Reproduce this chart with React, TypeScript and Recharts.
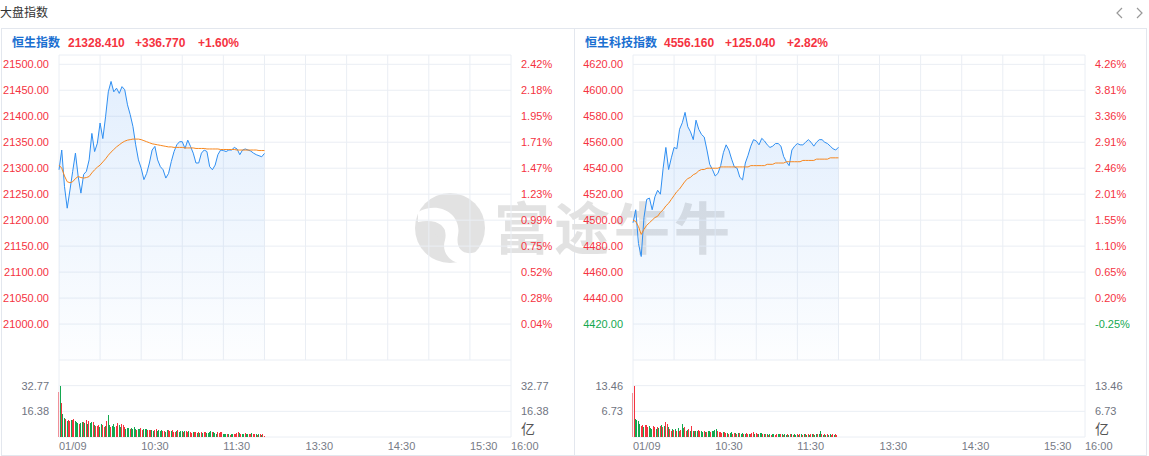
import React from 'react';
import { Area, Bar, CartesianGrid, Cell, ComposedChart, Line, ReferenceLine, XAxis, YAxis } from 'recharts';

const FONT = '"Liberation Sans", Arial, "Noto Sans CJK SC", sans-serif';
const RED = '#f5333f';
const GREEN = '#14a850';
const BLUE = '#2f8ff2';
const ORANGE = '#f7871e';
const GRID = '#eaeef4';
const BORDER = '#e3e7ee';

// x = trading minutes since 09:30 (lunch break removed), 330 = 16:00
const timeTicks = [0, 30, 60, 90, 120, 150, 180, 210, 240, 270, 300, 330];
const timeLabelTicks = [0, 60, 120, 180, 240, 300, 330];
const timeLabels = ['01/09', '10:30', '11:30', '13:30', '14:30', '15:30', '16:00'];

// 恒生指数, one point every 2 minutes
const hsiPrice = [
  21297, 21335, 21265, 21223, 21258, 21294, 21329, 21284, 21252, 21288,
  21294, 21316, 21367, 21332, 21348, 21387, 21357, 21399, 21447, 21467,
  21447, 21454, 21444, 21457, 21451, 21422, 21403, 21380, 21345, 21316,
  21300, 21278, 21290, 21310, 21335, 21342, 21316, 21303, 21297, 21281,
  21290, 21313, 21332, 21345, 21351, 21351, 21338, 21354, 21342, 21329,
  21310, 21310, 21329, 21335, 21332, 21303, 21297, 21306, 21326, 21335,
  21334, 21332, 21335, 21335, 21340, 21337, 21326, 21335, 21337, 21335,
  21333, 21329, 21326, 21324, 21322, 21328.41,
];
const hsiAvg = [
  21306, 21300, 21285, 21274, 21272, 21274, 21280, 21284, 21282, 21281,
  21282, 21284, 21291, 21297, 21302, 21306, 21312, 21318, 21325, 21331,
  21336, 21341, 21345, 21349, 21352, 21354, 21355, 21356, 21356, 21356,
  21355, 21353, 21351, 21349, 21347, 21346, 21345, 21344, 21343, 21342,
  21341, 21341, 21340, 21340, 21340, 21340, 21339, 21339, 21339, 21339,
  21338, 21338, 21338, 21338, 21337, 21337, 21337, 21337, 21337, 21336,
  21336, 21336, 21336, 21336, 21336, 21335, 21335, 21335, 21335, 21335,
  21335, 21335, 21335, 21334, 21334, 21334,
];
const hsiPriceLabels = [21000, 21050, 21100, 21150, 21200, 21250, 21300, 21350, 21400, 21450, 21500];
const hsiPriceGrid = [20930.8, ...hsiPriceLabels, 21517.9];
// volume per minute, 亿
const hsiVol = [
  28.7, 32.77, 21.7, 14.5, 12.3, 11.7, 10.2, 10.6, 10.2, 10.6,
  11.1, 11.7, 10.0, 9.6, 9.1, 8.5, 8.9, 9.6, 9.6, 8.9,
  10.6, 8.5, 10.0, 8.9, 9.6, 9.4, 7.4, 7.0, 6.8, 7.4,
  6.4, 8.5, 7.4, 6.4, 6.8, 10.0, 13.8, 7.4, 6.4, 6.8,
  8.5, 6.4, 6.8, 9.1, 7.4, 6.4, 8.5, 7.4, 6.4, 5.3,
  6.0, 5.7, 5.3, 6.0, 5.3, 6.4, 5.3, 4.7, 5.3, 5.3,
  6.0, 4.7, 5.3, 5.1, 5.3, 4.3, 4.7, 4.3, 4.7, 3.8,
  4.3, 5.3, 3.8, 4.3, 3.6, 4.3, 3.6, 3.8, 3.2, 4.3,
  4.7, 3.8, 3.6, 4.3, 3.4, 3.2, 3.6, 4.3, 3.2, 3.8,
  3.6, 3.2, 3.8, 3.8, 3.2, 3.6, 3.2, 2.8, 3.4, 3.0,
  3.2, 2.6, 3.0, 2.6, 3.2, 2.6, 3.0, 3.4, 2.8, 2.6,
  3.4, 3.8, 3.0, 3.2, 2.6, 2.1, 3.0, 2.6, 3.2, 3.4,
  2.1, 1.7, 2.1, 1.7, 1.7, 1.5, 2.1, 1.7, 2.1, 1.7,
  2.6, 3.0, 2.6, 2.1, 1.7, 2.1, 2.6, 2.1, 1.9, 1.7,
  1.7, 2.6, 2.1, 1.7, 1.9, 1.5, 1.7, 1.7, 1.5, 1.9,
  0.9,
];
const hsiVolDir =
  'rgrggrgrrg' + 'rrgggrggrg' + 'rgrggrgrrr' + 'ggrrgrggrg' + 'ggrrggrrrg' +
  'ggrggggrgg' + 'rrgggrrrgg' + 'rrggggrrgg' + 'rrgrrrgrgg' + 'grgrrgrrgr' +
  'rgrgrgrrgg' + 'ggrgggrrrr' + 'gggrgrggrr' + 'rrgrggrggr' + 'rgrrgrgrgr' + 'r';
const hsiVolLabels = [16.38, 32.77];

// 恒生科技指数
const hstPrice = [
  4498, 4508, 4482, 4472, 4502, 4516, 4517, 4508, 4518, 4523,
  4520, 4540, 4556, 4539, 4548, 4556, 4555, 4570, 4575, 4583,
  4572, 4568, 4562, 4577, 4570, 4566, 4564, 4554, 4543, 4539,
  4534, 4536, 4542, 4552, 4558, 4554, 4547, 4541, 4540, 4533,
  4531, 4544, 4550, 4557, 4562, 4561, 4558, 4563, 4561, 4558,
  4556, 4557, 4559, 4559, 4557, 4549, 4545, 4542, 4554, 4557,
  4559, 4558, 4558, 4560, 4562, 4560, 4557, 4560, 4562, 4562,
  4560, 4559, 4557, 4555, 4554, 4556.16,
];
const hstAvg = [
  4500, 4499, 4495, 4489, 4493, 4496, 4498, 4500, 4502, 4503,
  4506, 4508, 4511, 4513, 4516, 4519, 4522, 4524, 4527, 4530,
  4532, 4533, 4535, 4536, 4538, 4539, 4539, 4540, 4540, 4540,
  4540, 4540, 4541, 4541, 4541, 4541, 4541, 4541, 4541, 4541,
  4541, 4541, 4541, 4542, 4542, 4542, 4542, 4542, 4542, 4543,
  4543, 4543, 4544, 4544, 4544, 4544, 4545, 4545, 4545, 4545,
  4545, 4545, 4546, 4546, 4546, 4546, 4546, 4547, 4547, 4547,
  4547, 4547, 4548, 4548, 4548, 4548,
];
const hstPriceLabels = [4420, 4440, 4460, 4480, 4500, 4520, 4540, 4560, 4580, 4600, 4620];
const hstPriceGrid = [4392.3, ...hstPriceLabels, 4627.2];
const hstVol = [
  11.5, 13.46, 4.8, 4.5, 4.2, 3.5, 2.8, 3.1, 2.6, 3.2,
  3.1, 2.6, 2.8, 2.4, 2.2, 2.9, 2.6, 2.2, 2.6, 2.4,
  2.8, 3.1, 2.6, 2.8, 3.9, 3.3, 2.6, 2.2, 1.7, 2.2,
  1.9, 2.2, 1.7, 2.4, 1.7, 1.9, 3.3, 2.4, 2.6, 1.7,
  1.9, 2.2, 1.7, 2.8, 1.6, 1.7, 1.5, 1.7, 1.9, 1.5,
  1.7, 1.3, 1.6, 1.4, 1.2, 1.6, 1.5, 1.3, 1.7, 1.7,
  1.9, 2.0, 1.7, 1.4, 1.3, 1.1, 1.3, 1.3, 1.1, 1.0,
  0.9, 1.0, 1.2, 0.9, 1.0, 1.0, 0.9, 1.0, 1.0, 0.9,
  1.0, 0.8, 0.9, 1.0, 0.9, 0.8, 0.9, 1.0, 1.2, 0.8,
  1.0, 0.9, 0.8, 1.0, 1.0, 0.9, 0.7, 0.8, 0.7, 0.6,
  0.8, 0.6, 0.7, 0.9, 0.6, 0.7, 0.9, 0.7, 0.8, 0.7,
  0.6, 0.7, 0.6, 0.7, 0.6, 0.7, 0.8, 0.6, 0.7, 0.6,
  0.7, 0.6, 0.7, 0.8, 0.6, 0.7, 0.8, 0.6, 0.7, 0.6,
  0.7, 0.8, 0.7, 0.6, 0.8, 0.7, 0.9, 1.7, 0.7, 0.6,
  0.7, 0.6, 0.7, 0.6, 0.8, 0.6, 0.7, 0.6, 0.7, 0.6,
];
const hstVolDir =
  'rrggggrrgr' + 'rrgggrrgrg' + 'rgrgrrgrrg' + 'rgrgrrggrr' + 'grgrgrggrr' +
  'ggrgrggrgg' + 'ggrrrrgrrg' + 'rggrrgrgrg' + 'grgrrgrrrg' + 'rrgggrgrgr' +
  'grggrrggrg' + 'rggrgrgrgg' + 'rgrgrgrgrg' + 'rgrggrggrg' + 'rgrggrrgrr';
const hstVolLabels = [6.73, 13.46];

const PriceTick = (props: any) => {
  const { x, y, payload, labels, prevClose, side } = props;
  const v = payload.value;
  if (!labels.includes(v)) return <g />;
  const text = side === 'l' ? v.toFixed(2) : (((v - prevClose) / prevClose) * 100).toFixed(2) + '%';
  return (
    <text x={x} y={y} dy="0.355em" textAnchor={side === 'l' ? 'end' : 'start'}
      fill={v >= prevClose ? RED : GREEN} fontSize={11} fontFamily={FONT}>
      {text}
    </text>
  );
};

const VolTick = (props: any) => {
  const { x, y, payload, labels, side } = props;
  const v = payload.value;
  if (!labels.includes(v)) return <g />;
  return (
    <text x={x} y={y} dy="0.355em" textAnchor={side === 'l' ? 'end' : 'start'}
      fill="#70747f" fontSize={11} fontFamily={FONT}>
      {v.toFixed(2)}
    </text>
  );
};

const TimeTick = (props: any) => {
  const { x, y, payload } = props;
  const label = timeLabels[timeLabelTicks.indexOf(payload.value)];
  return (
    <text x={x} y={y} dy="0.71em" textAnchor="start" fill="#777b86" fontSize={11} fontFamily={FONT}>
      {label}
    </text>
  );
};

interface PanelProps {
  id: string;
  left: number;
  prevClose: number;
  price: number[];
  avg: number[];
  priceLabels: number[];
  priceGrid: number[];
  vol: number[];
  volDir: string;
  volLabels: number[];
}

const Panel: React.FC<PanelProps> = ({ id, left, prevClose, price, avg, priceLabels, priceGrid, vol, volDir, volLabels }) => {
  const rows = price.map((p, i) => ({ t: i * 2, p, a: avg[i] }));
  const vrows = vol.map((v, i) => ({ t: i, v, c: volDir[i] }));
  const volMax = volLabels[1] * 1.5;
  const volTicks = [0, ...volLabels, volMax];
  const pDomain = [priceGrid[0], priceGrid[priceGrid.length - 1]];

  return (
    <>
      <div style={{ position: 'absolute', left, top: 0 }}>
        <ComposedChart width={574} height={360} data={rows} margin={{ top: 55, right: 0, bottom: 0, left: 0 }}>
          <defs>
            <linearGradient id={`g-${id}`} x1="0" y1="0" x2="0" y2="1">
              <stop offset="0%" stopColor="#3d8ff2" stopOpacity={0.24} />
              <stop offset="100%" stopColor="#3d8ff2" stopOpacity={0.02} />
            </linearGradient>
          </defs>
          <CartesianGrid stroke={GRID} />
          <XAxis dataKey="t" type="number" domain={[0, 330]} ticks={timeTicks} hide />
          <YAxis type="number" domain={pDomain} ticks={priceGrid} interval={0} width={59}
            axisLine={false} tickLine={false} tickSize={0} tickMargin={10}
            tick={(p: any) => <PriceTick {...p} labels={priceLabels} prevClose={prevClose} side="l" />} />
          <YAxis yAxisId="r" orientation="right" type="number" domain={pDomain} ticks={priceGrid} interval={0} width={63}
            axisLine={false} tickLine={false} tickSize={0} tickMargin={10}
            tick={(p: any) => <PriceTick {...p} labels={priceLabels} prevClose={prevClose} side="r" />} />
          <Area type="linear" dataKey="p" stroke={BLUE} strokeWidth={1} fill={`url(#g-${id})`}
            dot={false} activeDot={false} isAnimationActive={false} />
          <Line type="linear" dataKey="a" stroke={ORANGE} strokeWidth={1} dot={false} activeDot={false} isAnimationActive={false} />
          {/* invisible copy so the right-hand percent axis gets drawn */}
          <Line yAxisId="r" type="linear" dataKey="p" stroke="none" dot={false} activeDot={false} isAnimationActive={false} />
        </ComposedChart>
      </div>
      <div className="vol" style={{ position: 'absolute', left, top: 360 }}>
        <ComposedChart width={574} height={96} data={vrows} margin={{ top: 0, right: 0, bottom: 0, left: 0 }}>
          <CartesianGrid stroke={GRID} vertical={false} />
          <XAxis dataKey="t" type="number" domain={[0, 330]} ticks={timeLabelTicks} interval={0} height={19}
            axisLine={false} tickLine={false} tickSize={0} tickMargin={5} tick={TimeTick} />
          <YAxis type="number" domain={[0, volMax]} ticks={volTicks} interval={0} width={59}
            axisLine={false} tickLine={false} tickSize={0} tickMargin={10}
            tick={(p: any) => <VolTick {...p} labels={volLabels} side="l" />} />
          <YAxis yAxisId="r" orientation="right" type="number" domain={[0, volMax]} ticks={volTicks} interval={0} width={63}
            axisLine={false} tickLine={false} tickSize={0} tickMargin={10}
            tick={(p: any) => <VolTick {...p} labels={volLabels} side="r" />} />
          <ReferenceLine x={0} stroke={GRID} />
          <ReferenceLine x={330} stroke={GRID} />
          <Bar dataKey="v" barSize={1} isAnimationActive={false}>
            {vrows.map((r, i) => (
              <Cell key={i} fill={r.c === 'r' ? RED : GREEN} />
            ))}
          </Bar>
          <Line yAxisId="r" type="linear" dataKey="v" stroke="none" dot={false} activeDot={false} isAnimationActive={false} />
        </ComposedChart>
      </div>
      <div style={{ position: 'absolute', left: left + 521, top: 418, fontSize: 14, color: '#555', fontFamily: FONT }}>亿</div>
    </>
  );
};

const Header = ({ x, name, nums }: { x: number[]; name: string; nums: string[] }) => (
  <>
    <span style={{ position: 'absolute', left: x[0], top: 35, lineHeight: '16px', fontSize: 12, fontWeight: 'bold', color: '#1a6fd1', fontFamily: FONT, whiteSpace: 'nowrap' }}>
      {name}
    </span>
    {nums.map((n, i) => (
      <span key={i} style={{ position: 'absolute', left: x[i + 1], top: 35, lineHeight: '16px', fontSize: 12, fontWeight: 'bold', color: RED, fontFamily: FONT, whiteSpace: 'nowrap' }}>
        {n}
      </span>
    ))}
  </>
);

export default function App() {
  return (
    <div style={{ position: 'absolute', left: 0, top: 0, width: 1149, height: 456, background: '#fff', overflow: 'hidden', fontFamily: FONT }}>
      <style>{'.vol .recharts-bar-rectangle path { shape-rendering: crispEdges; }'}</style>
      <div style={{ position: 'absolute', left: 0, top: 5, fontSize: 12, lineHeight: '16px', color: '#333' }}>大盘指数</div>
      <svg style={{ position: 'absolute', left: 1110, top: 4 }} width={36} height={18}>
        <polyline points="12,4 7,9 12,14" fill="none" stroke="#999" strokeWidth={1.2} />
        <polyline points="27,4 32,9 27,14" fill="none" stroke="#999" strokeWidth={1.2} />
      </svg>
      <div style={{ position: 'absolute', left: 1, top: 28, width: 1144, height: 426, border: `1px solid ${BORDER}` }} />
      <div style={{ position: 'absolute', left: 574, top: 28, width: 1, height: 428, background: BORDER }} />

      {/* watermark */}
      <svg style={{ position: 'absolute', left: 0, top: 0 }} width={1149} height={456}>
        <circle cx={450} cy={228} r={35} fill="#e2e2e2" />
        <path d="M418 212 C 440 200, 462 215, 458 235 C 455 250, 465 258, 480 250 L 472 262 C 455 268, 440 255, 445 240 C 448 228, 440 218, 418 222 Z" fill="#fff" />
        <circle cx={440} cy={232} r={5} fill="#e2e2e2" />
        <text x={494} y={249} fontSize={56} fontWeight={700} fill="#e2e2e2" letterSpacing={4}
          fontFamily='"Noto Sans CJK SC", sans-serif'>富途牛牛</text>
      </svg>

      <Header x={[12, 68, 135, 198]} name="恒生指数" nums={['21328.410', '+336.770', '+1.60%']} />
      <Header x={[585, 664, 725, 787]} name="恒生科技指数" nums={['4556.160', '+125.040', '+2.82%']} />

      <Panel id="hsi" left={0} prevClose={20991.64} price={hsiPrice} avg={hsiAvg}
        priceLabels={hsiPriceLabels} priceGrid={hsiPriceGrid} vol={hsiVol} volDir={hsiVolDir} volLabels={hsiVolLabels} />
      <Panel id="hst" left={574} prevClose={4431.12} price={hstPrice} avg={hstAvg}
        priceLabels={hstPriceLabels} priceGrid={hstPriceGrid} vol={hstVol} volDir={hstVolDir} volLabels={hstVolLabels} />
    </div>
  );
}
